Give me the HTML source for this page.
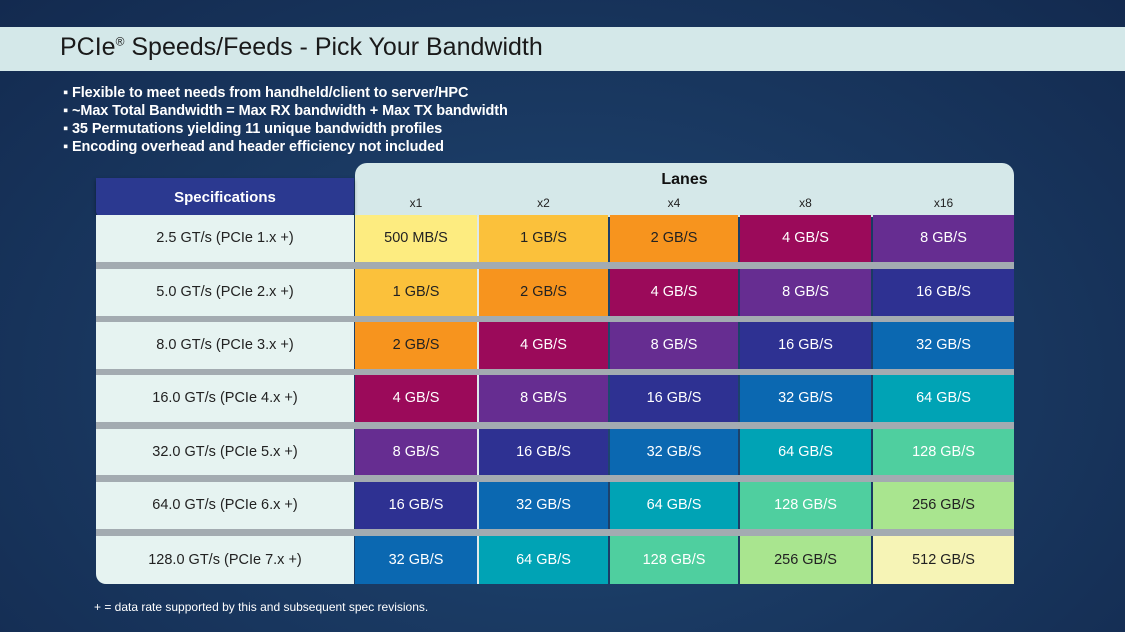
<!DOCTYPE html>
<html><head><meta charset="utf-8"><style>
*{margin:0;padding:0;box-sizing:border-box}
body{width:1125px;height:632px;overflow:hidden;position:relative;font-family:"Liberation Sans",sans-serif;
background:radial-gradient(ellipse at 50% 60%,#1f4a75 0%,#1a3a63 45%,#132a4f 100%);}
.a{position:absolute}
.title{left:0;top:27px;width:1125px;height:44px;background:#d4e8e9;}
.title span{position:absolute;left:60px;top:6px;font-size:25px;color:#1a1a1a;}
.bul{left:63px;color:#fff;font-weight:bold;font-size:14.5px;line-height:18px;top:84px;letter-spacing:-0.1px}
.hdr{left:355px;top:163px;width:659px;height:54px;background:#d5e8e9;border-radius:12px 12px 0 0}
.spec{left:96px;top:178px;width:258px;height:39px;background:#2b3990;border-radius:0 0 6px 6px;color:#fff;font-weight:bold;font-size:15px;text-align:center;line-height:40px;box-shadow:0 2px 4px rgba(0,0,0,.4)}
.lanes{left:355px;top:171px;width:659px;text-align:center;font-weight:bold;font-size:16px;color:#111}
.lh{top:196px;font-size:12px;color:#222;text-align:center}
.gap{left:96px;width:918px;height:7px;background:#a3abb1}
.sc{left:96px;width:258px;background:#e6f3f1;color:#222;font-size:14.5px;text-align:center}
.c{font-size:14.5px;text-align:center;color:#fff}
.k0{background:#fdec80;color:#222}.k1{background:#fbc13b;color:#222}.k2{background:#f7941e;color:#222}
.k3{background:#9b0a5a}.k4{background:#662d91}.k5{background:#2e3192}.k6{background:#0b68b1}
.k7{background:#00a3b5}.k8{background:#4fcf9f}.k9{background:#a9e58f;color:#222}.k10{background:#f6f4b6;color:#222}
.foot{left:94px;top:600px;color:#fff;font-size:12px}
</style></head><body>
<div class="a title"><span>PCIe<sup style="font-size:12px">®</sup> Speeds/Feeds - Pick Your Bandwidth</span></div>
<div class="a bul">▪ Flexible to meet needs from handheld/client to server/HPC<br>▪ ~Max Total Bandwidth = Max RX bandwidth + Max TX bandwidth<br>▪ 35 Permutations yielding 11 unique bandwidth profiles<br>▪ Encoding overhead and header efficiency not included</div>
<div class="a hdr"></div>
<div class="a lanes">Lanes</div>
<div class="a lh" style="left:355px;width:122px">x1</div>
<div class="a lh" style="left:479px;width:129px">x2</div>
<div class="a lh" style="left:610px;width:128px">x4</div>
<div class="a lh" style="left:740px;width:131px">x8</div>
<div class="a lh" style="left:873px;width:141px">x16</div>
<div class="a spec">Specifications</div>
<div id="t"></div>
<script>
var tops=[215,269,322,375,429,482,536],hs=[47,47,47,47,46,47,48];
var cols=[[355,122],[479,129],[610,128],[740,131],[873,141]];
var specs=["2.5 GT/s (PCIe 1.x +)","5.0 GT/s (PCIe 2.x +)","8.0 GT/s (PCIe 3.x +)","16.0 GT/s (PCIe 4.x +)","32.0 GT/s (PCIe 5.x +)","64.0 GT/s (PCIe 6.x +)","128.0 GT/s (PCIe 7.x +)"];
var vals=["500 MB/S","1 GB/S","2 GB/S","4 GB/S","8 GB/S","16 GB/S","32 GB/S","64 GB/S","128 GB/S","256 GB/S","512 GB/S"];
var h="";
for(var r=0;r<7;r++){
 var t=tops[r],hh=hs[r];
 if(r>0){var g=tops[r-1]+hs[r-1];h+='<div class="a gap" style="top:'+g+'px;height:'+(t-g)+'px"></div>';}
 h+='<div class="a sc" style="top:'+t+'px;height:'+hh+'px;line-height:'+hh+'px;'+(r==6?'border-radius:0 0 0 10px;':'')+'">'+specs[r]+'</div>';
 for(var c=0;c<5;c++){var k=r+c;
  h+='<div class="a c k'+k+'" style="left:'+cols[c][0]+'px;width:'+cols[c][1]+'px;top:'+t+'px;height:'+hh+'px;line-height:'+hh+'px">'+vals[k]+'</div>';}
}
h+='<div class="a" style="left:477px;top:215px;width:2px;height:369px;background:#dfe9ea;z-index:-1"></div>';
document.getElementById('t').innerHTML=h;
</script>
<div class="a foot">+ = data rate supported by this and subsequent spec revisions.</div>
</body></html>
